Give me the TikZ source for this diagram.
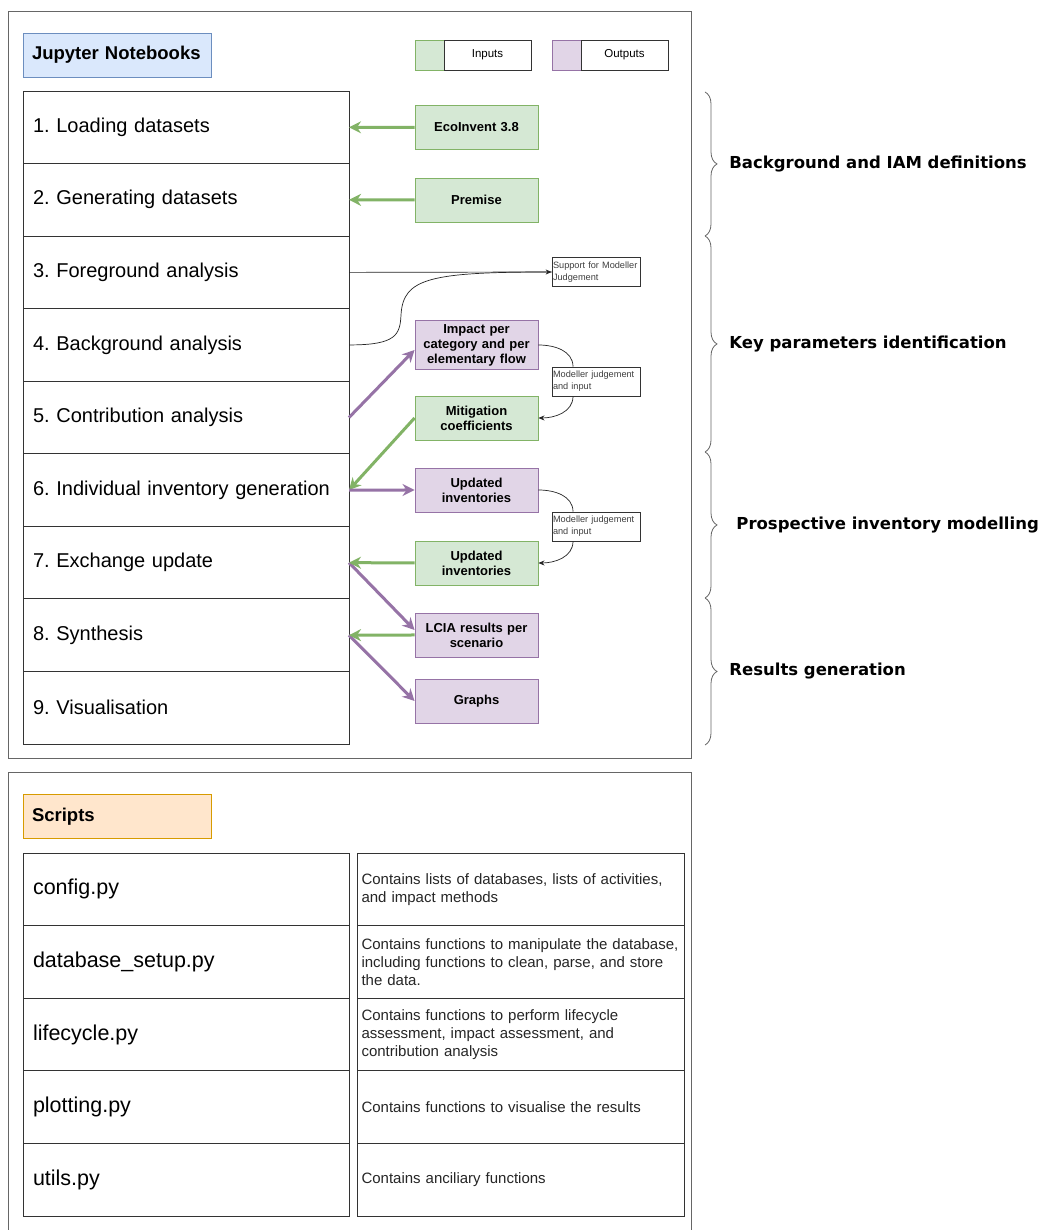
\documentclass[tikz,border=0pt]{standalone}
\usepackage{fontspec}
\setmainfont{Liberation Sans}
\newfontfamily\groupfont{DejaVu Sans}
\usetikzlibrary{positioning,
        arrows.meta,
        decorations.pathreplacing}
\definecolor{inputfill}{HTML}{D5E8D4}
\definecolor{inputline}{HTML}{82B366}
\definecolor{outputfill}{HTML}{E1D5E7}
\definecolor{outputline}{HTML}{9673A6}
\definecolor{nbfill}{HTML}{DAE8FC}
\definecolor{nbline}{HTML}{6C8EBF}
\definecolor{scfill}{HTML}{FFE6CC}
\definecolor{scline}{HTML}{D79B00}
\definecolor{frameline}{HTML}{666666}
\frenchspacing

\begin{document}
\begin{tikzpicture}[x=1pt,y=1pt,
        framebox/.style={draw=frameline, line width=1pt},
        titlebox/.style={draw, line width=0.9pt, minimum width=188pt, minimum height=44pt,
                text width=170pt, inner xsep=9pt, align=left,
                font=\bfseries\fontsize{18.5}{21}\selectfont},
        stepbox/.style={draw=black!80, line width=0.9pt, outer sep=0pt, minimum height=72.56pt,
                text width=306pt, inner xsep=10pt, align=left,
                font=\fontsize{20}{24}\selectfont},
        scriptbox/.style={stepbox, minimum height=72.6pt, font=\fontsize{21.5}{26}\selectfont},
        descbox/.style={draw=black!80, line width=0.9pt, outer sep=0pt, minimum height=72.6pt,
                text width=318pt, inner xsep=4.5pt, align=left, text=black!85,
                font=\fontsize{15}{18}\selectfont},
        inbox/.style={draw=inputline, fill=inputfill, line width=0.9pt, minimum width=123pt,
                minimum height=44pt, text width=117pt, inner xsep=3pt, align=center,
                font=\bfseries\fontsize{13}{15}\selectfont},
        outbox/.style={inbox, draw=outputline, fill=outputfill},
        notebox/.style={draw=black!80, line width=0.7pt, minimum width=88pt, minimum height=29pt,
                text width=86pt, inner xsep=1pt, align=left, text=black!75,
                font=\fontsize{9.2}{12}\selectfont},
        legendbox/.style={draw=black!80, line width=0.9pt, outer sep=0pt, minimum width=87pt,
                minimum height=30pt, font=\fontsize{11.5}{13}\selectfont},
        legendkey/.style={line width=0.9pt, outer sep=0pt, minimum width=29pt, minimum height=30pt},
        inflow/.style={draw=inputline, line width=3pt, -{Stealth[length=12pt,width=12pt]}},
        outflow/.style={inflow, draw=outputline},
        thinflow/.style={draw=black!85, line width=0.7pt, -{Stealth[length=6pt,width=5pt]}},
        thinline/.style={draw=black!85, line width=0.7pt},
        groupbrace/.style={draw=frameline, line width=0.8pt, decorate,
                decoration={brace, amplitude=12pt}},
        grouplabel/.style={anchor=west, inner sep=2pt, font=\groupfont\bfseries\fontsize{16.5}{20}\selectfont}]

        \path[use as bounding box, fill=white] (0,0) rectangle (1044,1230);

        % notebooks panel
        \draw[framebox] (8,471) rectangle (691,1218);
        \node[titlebox, fill=nbfill, draw=nbline] (jupyter) at (117,1175) {Jupyter Notebooks};

        \node[legendkey, fill=inputfill, draw=inputline] (legin) at (429.5,1175) {};
        \node[legendbox, right=0pt of legin] (legintext) {Inputs};
        \node[legendkey, fill=outputfill, draw=outputline] (legout) at (566.5,1175) {};
        \node[legendbox, right=0pt of legout] (legouttext) {Outputs};

        \node[stepbox, anchor=north west] (load) at (23,1139) {1. Loading datasets};
        \node[stepbox, below=0pt of load] (generate) {2. Generating datasets};
        \node[stepbox, below=0pt of generate] (fground) {3. Foreground analysis};
        \node[stepbox, below=0pt of fground] (bground) {4. Background analysis};
        \node[stepbox, below=0pt of bground] (contrib) {5. Contribution analysis};
        \node[stepbox, below=0pt of contrib] (indiv) {6. Individual inventory generation};
        \node[stepbox, below=0pt of indiv] (exchange) {7. Exchange update};
        \node[stepbox, below=0pt of exchange] (synth) {8. Synthesis};
        \node[stepbox, below=0pt of synth] (visual) {9. Visualisation};

        \node[inbox] (eco) at (476.5,1102.5) {EcoInvent 3.8};
        \node[inbox] (prem) at (476.5,1030) {Premise};
        \node[outbox] (impact) at (476.5,885) {Impact per\\category and per\\elementary flow};
        \node[inbox] (mitig) at (476.5,812) {Mitigation\\coefficients};
        \node[outbox] (updout) at (476.5,740) {Updated\\inventories};
        \node[inbox] (updin) at (476.5,667) {Updated\\inventories};
        \node[outbox] (lcia) at (476.5,595) {LCIA results per\\scenario};
        \node[outbox] (graphs) at (476.5,529) {Graphs};

        \node[notebox] (support) at (596,958) {Support for Modeller\\Judgement};
        \node[notebox] (judge1) at (596,848.5) {Modeller judgement\\and input};
        \node[notebox] (judge2) at (596,703.5) {Modeller judgement\\and input};

        % flows between notebooks and data
        \draw[inflow] (eco.west) -- (load.east);
        \draw[inflow] (prem.west) -- (generate.east);
        \draw[thinflow] (fground.east) -- (support.west);
        \draw[thinline] (bground.east) .. controls (396,885) and (400,895) .. (401,915)
                .. controls (403,952) and (430,958) .. (support.west);
        \draw[outflow] (contrib.east) -- ([yshift=-5pt]impact.west);
        \draw[thinline] (impact.east) to[out=0,in=90] ([xshift=-23pt]judge1.north);
        \draw[thinflow] ([xshift=-23pt]judge1.south) to[out=-90,in=0] (mitig.east);
        \draw[inflow] (mitig.west) -- (indiv.east);
        \draw[outflow] (indiv.east) -- (updout.west);
        \draw[thinline] (updout.east) to[out=0,in=90] ([xshift=-23pt]judge2.north);
        \draw[thinflow] ([xshift=-23pt]judge2.south) to[out=-90,in=0] (updin.east);
        \draw[outflow] (exchange.east) -- ([yshift=5pt]lcia.west);
        \draw[inflow] (updin.west) -- (exchange.east);
        \draw[outflow] (synth.east) -- (graphs.west);
        \draw[inflow] (lcia.west) -- (synth.east);

        % stages
        \draw[groupbrace] (705,1138) -- (705,994)
                node[grouplabel, midway, xshift=22pt] {Background and IAM definitions};
        \draw[groupbrace] (705,994) -- (705,778)
                node[grouplabel, midway, xshift=22pt] {Key parameters identification};
        \draw[groupbrace] (705,778) -- (705,632)
                node[grouplabel, midway, xshift=29pt] {Prospective inventory modelling};
        \draw[groupbrace] (705,632) -- (705,485)
                node[grouplabel, midway, xshift=22pt] {Results generation};

        % scripts panel
        \draw[framebox] (8,-2) |- (691,457) -- (691,-2);
        \node[titlebox, fill=scfill, draw=scline] (scripts) at (117,413.5) {Scripts};

        \node[scriptbox, anchor=north west] (config) at (23,377) {config.py};
        \node[scriptbox, below=0pt of config] (dbsetup) {database\_setup.py};
        \node[scriptbox, below=0pt of dbsetup] (lifecycle) {lifecycle.py};
        \node[scriptbox, below=0pt of lifecycle] (plotting) {plotting.py};
        \node[scriptbox, below=0pt of plotting] (utils) {utils.py};

        \node[descbox, right=8pt of config] (configdesc) {Contains lists of databases, lists of activities,\\and impact methods};
        \node[descbox, right=8pt of dbsetup] (dbsetupdesc) {Contains functions to manipulate the database,\\including functions to clean, parse, and store\\the data.};
        \node[descbox, right=8pt of lifecycle] (lifecycledesc) {Contains functions to perform lifecycle\\assessment, impact assessment, and\\contribution analysis};
        \node[descbox, right=8pt of plotting] (plottingdesc) {Contains functions to visualise the results};
        \node[descbox, right=8pt of utils] (utilsdesc) {Contains anciliary functions};
\end{tikzpicture}
\end{document}
